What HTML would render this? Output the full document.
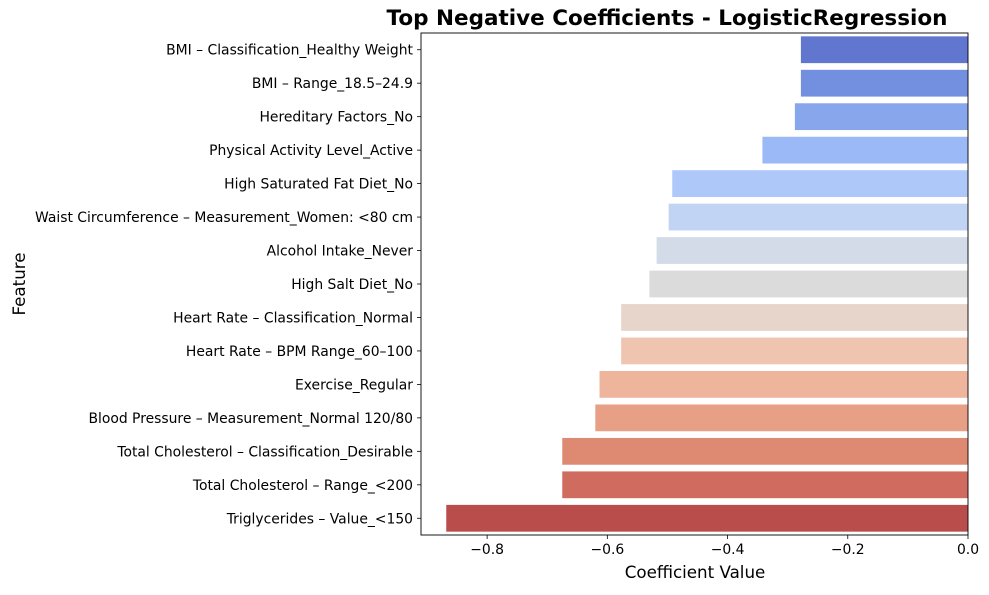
<!DOCTYPE html>
<html><head><meta charset="utf-8"><style>
body{margin:0;background:#fff;font-family:"Liberation Sans","DejaVu Sans",sans-serif}
</style></head><body>
<svg id="chart" width="989" height="590" xmlns="http://www.w3.org/2000/svg" font-family="DejaVu Sans, Liberation Sans, sans-serif"></svg>
<script>
const features=["BMI – Classification_Healthy Weight","BMI – Range_18.5–24.9","Hereditary Factors_No","Physical Activity Level_Active","High Saturated Fat Diet_No","Waist Circumference – Measurement_Women: <80 cm","Alcohol Intake_Never","High Salt Diet_No","Heart Rate – Classification_Normal","Heart Rate – BPM Range_60–100","Exercise_Regular","Blood Pressure – Measurement_Normal 120/80","Total Cholesterol – Classification_Desirable","Total Cholesterol – Range_<200","Triglycerides – Value_<150"];
const values=[-0.278,-0.278,-0.288,-0.342,-0.492,-0.498,-0.518,-0.530,-0.577,-0.577,-0.613,-0.620,-0.675,-0.675,-0.868];
const colors=["#6176cf","#7390e0","#87a6ec","#9bb9f6","#aec8f9","#c1d4f3","#d3dbe8","#dcdbdb","#e7d5cb","#efc5b2","#eeb49c","#e7a086","#de8a73","#cf6c5f","#b94d4c"];
const ticks=[-0.8,-0.6,-0.4,-0.2,0.0];
const tickLabels=["−0.8","−0.6","−0.4","−0.2","0.0"];
const L=421,R=968,T=33,B=535,xmin=-0.91,xmax=0;
const NS="http://www.w3.org/2000/svg";
const svg=document.getElementById('chart');
function x(v){return L+(v-xmin)/(xmax-xmin)*(R-L);}
const band=(B-T)/features.length;
function y(i){return T+band*i;}
function mk(tag,attrs,text){const e=document.createElementNS(NS,tag);for(const k in attrs)e.setAttribute(k,attrs[k]);if(text!==undefined)e.textContent=text;svg.appendChild(e);return e;}
features.forEach((f,i)=>{
  const bar=mk('rect',{x:x(values[i]),y:y(i)+band*0.1,width:x(0)-x(values[i]),height:band*0.8,fill:colors[i]});
  
  
  const cy=y(i)+band/2;
  const tk=mk('line',{x1:L-4,x2:L,y1:cy,y2:cy,stroke:'#000','stroke-width':0.8});
  
  
  const t=mk('text',{x:L-8,y:cy+5,'text-anchor':'end','font-size':'13.9px',fill:'#000'},f);
  
  
});
ticks.forEach((v,i)=>{
  const tk=mk('line',{x1:x(v),x2:x(v),y1:B,y2:B+4,stroke:'#000','stroke-width':0.8});
  
  
  const t=mk('text',{x:x(v),y:B+19,'text-anchor':'middle','font-size':'13.9px',fill:'#000'},tickLabels[i]);
  
  
});
const frame=mk('rect',{x:L,y:T,width:R-L,height:B-T,fill:'none',stroke:'#000','stroke-width':0.9});


const title=mk('text',{x:667,y:25,'text-anchor':'middle','font-size':'21.5px','font-weight':'bold'},'Top Negative Coefficients - LogisticRegression');


const xl=mk('text',{x:695,y:578,'text-anchor':'middle','font-size':'16.7px'},'Coefficient Value');


const yl=mk('text',{x:0,y:0,'text-anchor':'middle','font-size':'16.7px',transform:'translate(25,'+((T+B)/2)+') rotate(-90)'},'Feature');


</script>
</body></html>
